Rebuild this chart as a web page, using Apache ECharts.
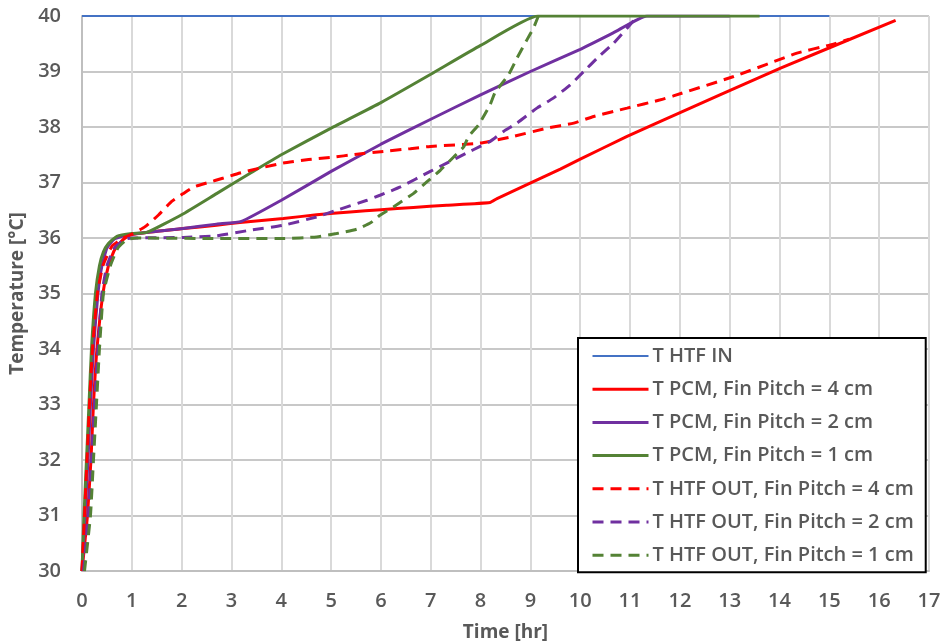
<!DOCTYPE html>
<html>
<head>
<meta charset="utf-8">
<script src="https://cdn.jsdelivr.net/npm/echarts@6/dist/echarts.min.js"></script>
<style>
  html, body { margin: 0; padding: 0; background: #fff; }
  #chart { width: 944px; height: 644px; }
</style>
</head>
<body>
<div id="chart"></div>
<script>
// Charging curves: temperature [°C] against time [hr], as [time, temperature] pairs.
const xTicks = { min: 0, max: 17, step: 1 };
const yTicks = { min: 30, max: 40, step: 1 };

const seriesNames = [
  'T HTF IN',
  'T PCM, Fin Pitch = 4 cm',
  'T PCM, Fin Pitch = 2 cm',
  'T PCM, Fin Pitch = 1 cm',
  'T HTF OUT, Fin Pitch = 4 cm',
  'T HTF OUT, Fin Pitch = 2 cm',
  'T HTF OUT, Fin Pitch = 1 cm'
];

const htfIn = [[0, 40], [15, 40]];

const pcm4 = [
  [0, 30], [0.11, 31], [0.18, 32], [0.23, 33], [0.3, 34], [0.42, 35], [0.53, 35.5],
  [0.65, 35.78], [0.8, 35.95], [0.95, 36.05], [1.37, 36.11], [2.03, 36.17], [2.7, 36.23],
  [3.17, 36.28], [4.04, 36.35], [4.71, 36.42], [5.38, 36.47], [6.0, 36.51], [6.65, 36.55],
  [7.32, 36.59], [8.19, 36.64], [8.33, 36.71], [8.93, 36.96], [9.6, 37.24], [10.0, 37.42],
  [10.94, 37.83], [11.61, 38.1], [14.02, 39.06], [16.33, 39.92]
];

const pcm2 = [
  [0, 30], [0.06, 31], [0.12, 32], [0.17, 33], [0.23, 34], [0.32, 35], [0.4, 35.5],
  [0.5, 35.82], [0.65, 35.98], [0.85, 36.04], [1.0, 36.07], [1.37, 36.11], [2.03, 36.17],
  [2.7, 36.25], [3.2, 36.3], [4.0, 36.68], [5.0, 37.2], [6.0, 37.69], [7.0, 38.14],
  [8.0, 38.58], [9.0, 39.0], [10.0, 39.4], [10.67, 39.7], [11.34, 40], [13.0, 40]
];

const pcm1 = [
  [0, 30], [0.04, 31], [0.09, 32], [0.14, 33], [0.19, 34], [0.27, 35], [0.35, 35.5],
  [0.43, 35.75], [0.53, 35.9], [0.7, 36.03], [1.0, 36.08], [1.3, 36.1], [2.0, 36.42],
  [2.7, 36.8], [3.4, 37.18], [4.0, 37.5], [5.0, 37.98], [6.0, 38.44], [7.0, 38.95],
  [8.0, 39.47], [9.15, 40], [13.6, 40]
];

const out4 = [
  [0, 30], [0.05, 31], [0.1, 32], [0.15, 33], [0.21, 34], [0.31, 35], [0.42, 35.5],
  [0.6, 35.85], [0.83, 36.0], [1.0, 36.07], [1.26, 36.2], [1.53, 36.41], [1.8, 36.66],
  [2.03, 36.8], [2.24, 36.92], [2.5, 36.99], [2.84, 37.08], [3.17, 37.17], [3.57, 37.26],
  [4.04, 37.35], [4.51, 37.41], [4.98, 37.45], [5.52, 37.51], [6.05, 37.56], [6.59, 37.61],
  [6.99, 37.65], [7.99, 37.71], [8.66, 37.83], [9.33, 37.98], [9.87, 38.07], [10.27, 38.19],
  [10.94, 38.34], [11.61, 38.49], [11.87, 38.56], [13.08, 38.91], [14.35, 39.33],
  [15.02, 39.48], [15.4, 39.58]
];

const out2 = [
  [0.03, 30], [0.13, 31], [0.19, 32], [0.25, 33], [0.32, 34], [0.4, 35], [0.5, 35.5],
  [0.65, 35.82], [0.87, 35.98], [1.0, 36.0], [2.03, 36.01], [2.7, 36.04], [3.37, 36.14],
  [4.04, 36.23], [4.71, 36.38], [5.11, 36.5], [5.72, 36.68], [5.98, 36.77], [6.39, 36.92],
  [6.99, 37.2], [7.32, 37.35], [7.72, 37.53], [7.99, 37.65], [8.19, 37.74], [8.46, 37.92],
  [8.73, 38.07], [9.13, 38.34], [9.46, 38.52], [9.8, 38.76], [10.07, 39.0], [10.34, 39.24],
  [10.67, 39.51], [10.94, 39.78], [11.15, 40]
];

const out1 = [
  [0.05, 30], [0.17, 31], [0.23, 32], [0.29, 33], [0.35, 34], [0.43, 35], [0.57, 35.5],
  [0.72, 35.82], [0.9, 35.97], [1.1, 36.0], [2.7, 35.99], [4.04, 35.99], [4.71, 36.02],
  [5.11, 36.08], [5.52, 36.16], [5.8, 36.28], [5.98, 36.41], [6.25, 36.56], [6.65, 36.8],
  [6.92, 37.01], [7.19, 37.22], [7.46, 37.46], [7.66, 37.64], [7.76, 37.83], [7.96, 38.04],
  [8.19, 38.4], [8.29, 38.62], [8.56, 38.94], [8.73, 39.24], [8.93, 39.57], [9.06, 39.78],
  [9.16, 40]
];

const BLUE = '#4472C4', RED = '#FF0000', PURPLE = '#7030A0', GREEN = '#548235';
const FONT = '"Open Sans", "Noto Sans", sans-serif';
const TEXT = '#595959';
const DASH = [11, 7];

const styles = [
  { data: htfIn, color: BLUE, dashed: false, width: 2 },
  { data: pcm4, color: RED, dashed: false, width: 3 },
  { data: pcm2, color: PURPLE, dashed: false, width: 3 },
  { data: pcm1, color: GREEN, dashed: false, width: 3 },
  { data: out4, color: RED, dashed: true, width: 3 },
  { data: out2, color: PURPLE, dashed: true, width: 3 },
  { data: out1, color: GREEN, dashed: true, width: 3 }
];

function lineStyleOf(s) {
  return { color: s.color, width: s.width, type: s.dashed ? DASH : 'solid', cap: 'butt' };
}

const series = styles.map((s, i) => ({
  name: seriesNames[i],
  type: 'line',
  data: s.data,
  showSymbol: false,
  symbol: 'none',
  smooth: 0.15,
  animation: false,
  lineStyle: lineStyleOf(s),
  itemStyle: { color: s.color }
}));

const legendData = styles.map((s, i) => ({
  name: seriesNames[i],
  lineStyle: lineStyleOf(s),
  itemStyle: { color: 'rgba(0,0,0,0)', borderColor: 'rgba(0,0,0,0)', borderWidth: 0, opacity: 0 }
}));

const chart = echarts.init(document.getElementById('chart'), null, { renderer: 'canvas' });

chart.setOption({
  backgroundColor: '#ffffff',
  animation: false,
  grid: { left: 82, right: 15, top: 16, bottom: 73, containLabel: false, outerBoundsMode: 'none' },
  xAxis: {
    type: 'value',
    min: xTicks.min, max: xTicks.max, interval: xTicks.step,
    name: 'Time [hr]',
    nameLocation: 'middle',
    nameGap: 52,
    nameTextStyle: { fontFamily: FONT, fontWeight: 'bold', fontSize: 19, color: TEXT },
    axisLine: { show: true, lineStyle: { color: '#BFBFBF', width: 2 } },
    axisTick: { show: false },
    axisLabel: { fontFamily: FONT, fontWeight: 600, fontSize: 20, color: TEXT, margin: 20 },
    splitLine: { show: true, lineStyle: { color: '#D9D9D9', width: 2 } }
  },
  yAxis: {
    type: 'value',
    min: yTicks.min, max: yTicks.max, interval: yTicks.step,
    name: 'Temperature [°C]',
    nameLocation: 'middle',
    nameRotate: 90,
    nameGap: 54,
    nameTextStyle: { fontFamily: FONT, fontWeight: 'bold', fontSize: 19, color: TEXT },
    axisLine: { show: true, lineStyle: { color: '#BFBFBF', width: 2 } },
    axisTick: { show: false },
    axisLabel: { fontFamily: FONT, fontWeight: 600, fontSize: 20, color: TEXT, margin: 21 },
    splitLine: { show: true, lineStyle: { color: '#C8C8C8', width: 2 } }
  },
  legend: {
    orient: 'vertical',
    left: 578,
    top: 338,
    padding: [8, 12, 7, 13],
    backgroundColor: '#ffffff',
    borderColor: '#000000',
    borderWidth: 2,
    itemWidth: 56,
    itemHeight: 14,
    itemGap: 13.2,
    selectedMode: false,
    itemStyle: { color: 'rgba(0,0,0,0)', borderColor: 'rgba(0,0,0,0)', borderWidth: 0, opacity: 0 },
    textStyle: { fontFamily: FONT, fontWeight: 600, fontSize: 20, color: TEXT, lineHeight: 20, padding: [0, 0, 0, -1] },
    data: legendData
  },
  series: series
});
</script>
</body>
</html>
